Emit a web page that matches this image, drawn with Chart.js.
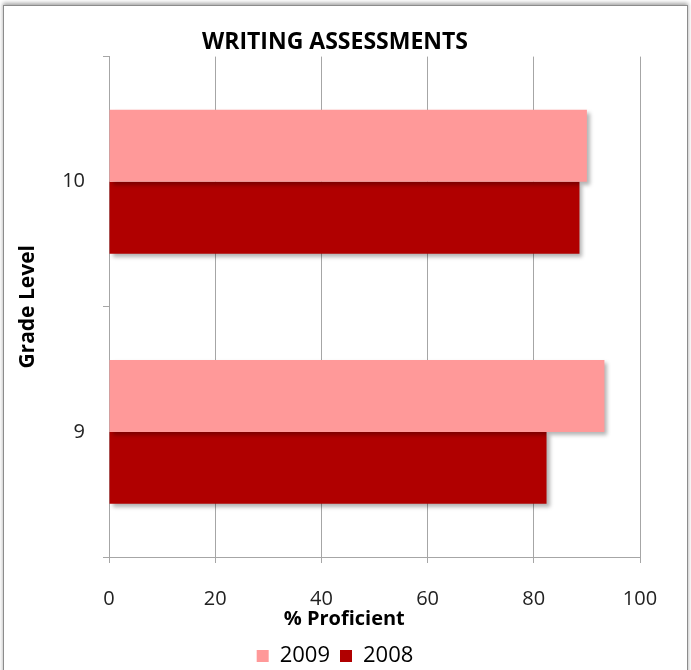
<!DOCTYPE html>
<html>
<head>
<meta charset="utf-8">
<script src="https://cdn.jsdelivr.net/npm/chart.js@4/dist/chart.umd.min.js"></script>
<style>
  body { margin: 0; background: #fff; }
  #frame {
    position: absolute; left: 3px; top: 5px; width: 683px; height: 680px;
    border: 1px solid #8c8c8c; box-shadow: 0 -2px 4px rgba(0,0,0,0.35);
  }
  #wrap { position: absolute; left: 0; top: 0; width: 691px; height: 670px; }
</style>
</head>
<body>
<div id="frame"></div>
<div id="wrap"><canvas id="chart"></canvas></div>
<script>
// data
var grades = ["10", "9"];
var y2009 = [90.0, 93.3];
var y2008 = [88.6, 82.4];
var xTicks = [0, 20, 40, 60, 80, 100];

var font = "'Open Sans', sans-serif";
var gridColor = "#a6a6a6";

// soft shadow under the bars
var barShadow = {
  id: "barShadow",
  beforeDatasetsDraw: function (chart) {
    var ctx = chart.ctx;
    ctx.save();
    ctx.shadowColor = "rgba(0,0,0,0.3)";
    ctx.shadowOffsetX = 3;
    ctx.shadowOffsetY = 3;
    ctx.shadowBlur = 4;
  },
  afterDatasetsDraw: function (chart) {
    chart.ctx.restore();
  }
};

// x axis title sits a bit left of the plot centre, like the original
var xTitle = {
  id: "xTitle",
  afterDraw: function (chart, args, opts) {
    var ctx = chart.ctx, a = chart.chartArea;
    ctx.save();
    ctx.font = "bold 20px " + font;
    ctx.fillStyle = "#000";
    ctx.textAlign = "center";
    ctx.textBaseline = "middle";
    ctx.fillText(opts.text, a.left + (a.right - a.left) * 0.443, a.bottom + 62);
    ctx.restore();
  }
};

new Chart(document.getElementById("chart"), {
  type: "bar",
  data: {
    labels: grades,
    datasets: [
      { label: "2009", data: y2009, backgroundColor: "#ff9999" },
      { label: "2008", data: y2008, backgroundColor: "#b00000" }
    ]
  },
  plugins: [barShadow, xTitle],
  options: {
    indexAxis: "y",
    responsive: true,
    maintainAspectRatio: false,
    animation: false,
    categoryPercentage: 0.575,
    barPercentage: 1,
    layout: { padding: { left: 30, right: 51, top: 0, bottom: -7 } },
    plugins: {
      title: {
        display: true,
        text: "WRITING ASSESSMENTS",
        color: "#000",
        font: { family: font, size: 23, weight: "bold" },
        padding: { top: 29, bottom: 0 }
      },
      legend: {
        position: "bottom",
        labels: {
          color: "#000",
          font: { family: font, size: 22 },
          boxWidth: 12, boxHeight: 12,
          padding: 10
        }
      },
      xTitle: { text: "% Proficient" },
      tooltip: { enabled: false }
    },
    scales: {
      x: {
        min: 0, max: 100,
        afterBuildTicks: function (s) { s.ticks = xTicks.map(function (v) { return { value: v }; }); },
        afterFit: function (s) { s.height = 78; },
        grid: { color: gridColor, tickLength: 6, tickColor: gridColor },
        border: { color: gridColor },
        ticks: { color: "#222", padding: 24, font: { family: font, size: 20 } },
        title: { display: false }
      },
      y: {
        afterFit: function (s) { s.width = 79; },
        grid: { drawOnChartArea: false, offset: true, tickLength: 6, color: gridColor },
        border: { color: gridColor },
        ticks: { color: "#222", padding: 18, font: { family: font, size: 20 } },
        title: {
          display: true, text: "Grade Level", color: "#000",
          font: { family: font, size: 21, weight: "bold" },
          padding: { top: -15, bottom: 0 }
        }
      }
    }
  }
});
</script>
</body>
</html>
